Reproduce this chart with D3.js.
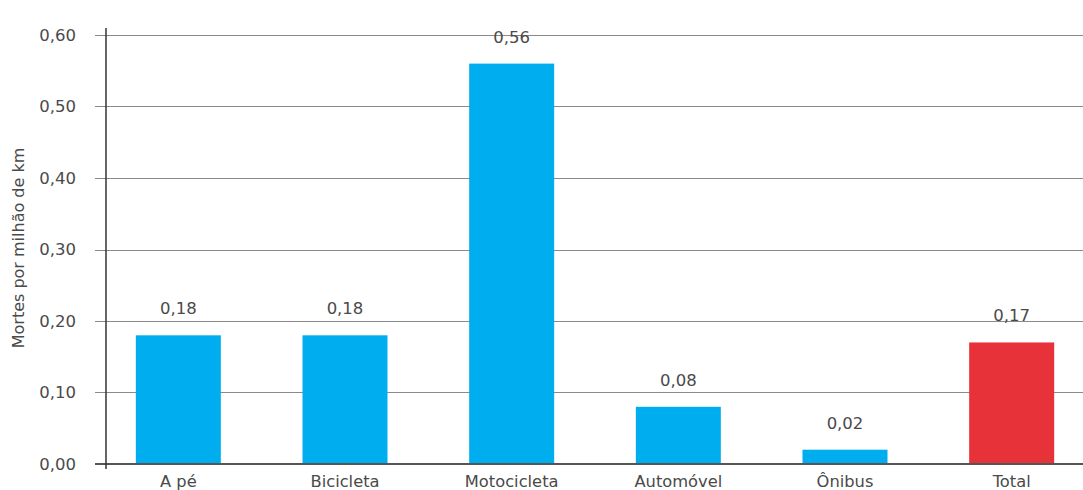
<!DOCTYPE html>
<html>
<head>
<meta charset="utf-8">
<script src="https://cdn.jsdelivr.net/npm/d3@7"></script>
<style>
  html, body { margin: 0; padding: 0; background: #fff; }
  svg { display: block; }
  text { font-family: "DejaVu Sans", Verdana, sans-serif; fill: #4a4a4a; }
</style>
</head>
<body>
<svg id="chart" width="1083" height="490"></svg>
<script>
// Deaths per million km travelled, by mode of transport
const categories = ["A pé", "Bicicleta", "Motocicleta", "Automóvel", "Ônibus", "Total"];
const values = [0.18, 0.18, 0.56, 0.08, 0.02, 0.17];
const barColors = ["#00aeef", "#00aeef", "#00aeef", "#00aeef", "#00aeef", "#e8323a"];
const yTicks = [0, 0.1, 0.2, 0.3, 0.4, 0.5, 0.6];
const yTitle = "Mortes por milhão de km";

const svg = d3.select("#chart");
const W = 1083;
const axisX = 106, baseY = 464, topY = 35;

const fmt = v => d3.format(".2f")(v).replace(".", ",");

const y = d3.scaleLinear().domain([0, 0.6]).range([baseY, topY]);
const x = d3.scaleBand().domain(categories).range([95, 1095])
  .paddingInner(0.49).paddingOuter(0.245);

// horizontal gridlines with tick stubs left of the axis
svg.append("g").selectAll("line").data(yTicks.filter(t => t > 0)).join("line")
  .attr("x1", 95).attr("x2", W)
  .attr("y1", d => Math.round(y(d)) + 0.5).attr("y2", d => Math.round(y(d)) + 0.5)
  .attr("stroke", "#8a8a8a").attr("stroke-width", 1);

// y tick labels
svg.append("g").selectAll("text").data(yTicks).join("text")
  .attr("x", 76).attr("y", d => y(d))
  .attr("dy", "0.36em").attr("text-anchor", "end")
  .style("font-size", "16.5px")
  .text(d => fmt(d));

// bars
svg.append("g").selectAll("rect").data(categories).join("rect")
  .attr("x", d => x(d)).attr("width", x.bandwidth())
  .attr("y", (d, i) => y(values[i]))
  .attr("height", (d, i) => baseY - y(values[i]))
  .attr("fill", (d, i) => barColors[i]);

// value labels above bars
svg.append("g").selectAll("text").data(categories).join("text")
  .attr("x", d => x(d) + x.bandwidth() / 2)
  .attr("y", (d, i) => y(values[i]) - 21)
  .attr("text-anchor", "middle")
  .style("font-size", "16.5px")
  .text((d, i) => fmt(values[i]));

// baseline
svg.append("line")
  .attr("x1", 95).attr("x2", W).attr("y1", baseY).attr("y2", baseY)
  .attr("stroke", "#555").attr("stroke-width", 2);

// vertical axis line
svg.append("line")
  .attr("x1", axisX).attr("x2", axisX).attr("y1", 28).attr("y2", 469)
  .attr("stroke", "#333").attr("stroke-width", 1.5);

// category labels
svg.append("g").selectAll("text").data(categories).join("text")
  .attr("x", d => x(d) + x.bandwidth() / 2)
  .attr("y", 487)
  .attr("text-anchor", "middle")
  .style("font-size", "16.3px")
  .text(d => d);

// y axis title
svg.append("text")
  .attr("transform", `translate(24, 248) rotate(-90)`)
  .attr("text-anchor", "middle")
  .style("font-size", "16px")
  .text(yTitle);
</script>
</body>
</html>
